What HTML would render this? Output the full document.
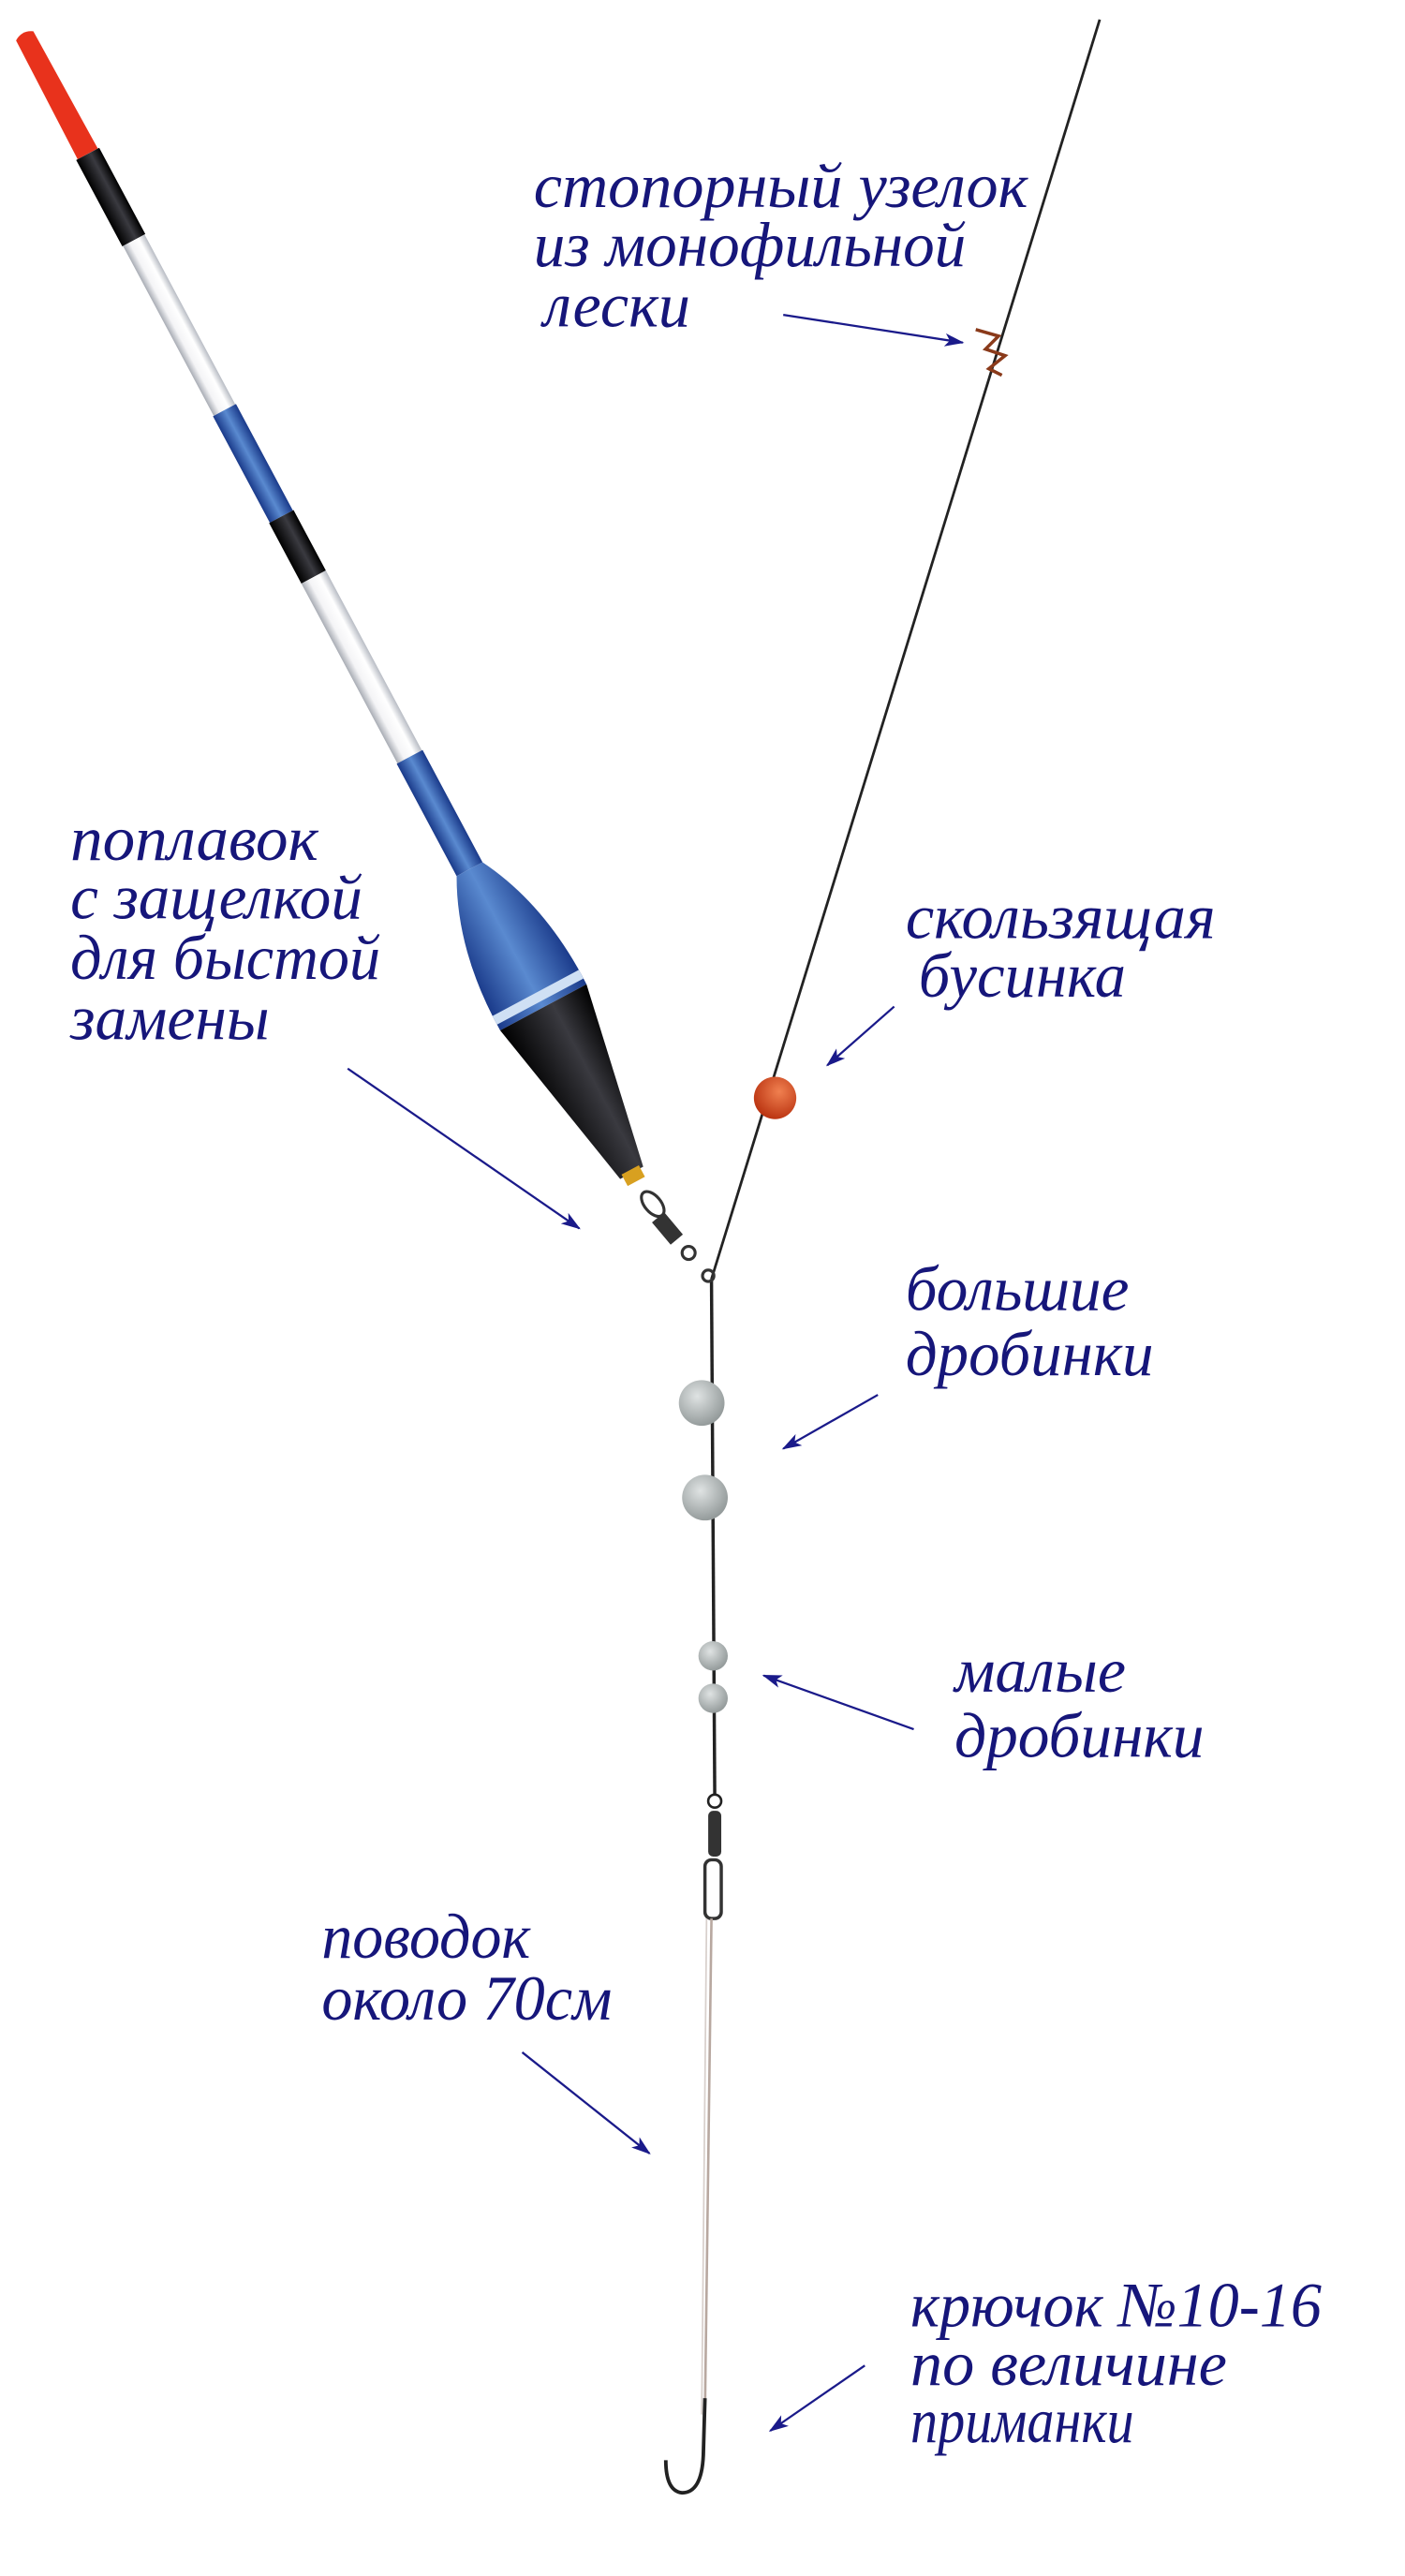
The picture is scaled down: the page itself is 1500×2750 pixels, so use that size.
<!DOCTYPE html>
<html><head><meta charset="utf-8"><style>
html,body{margin:0;padding:0;background:#fff;}
svg{display:block;}
text{font-family:"Liberation Serif","DejaVu Serif",serif;font-style:italic;fill:#16167a;font-size:39px;}
</style></head><body>
<svg width="1500" height="2750" viewBox="0 0 861 1579" xmlns="http://www.w3.org/2000/svg">
<defs>
<marker id="ah" markerWidth="12" markerHeight="10" refX="11" refY="5" orient="auto" markerUnits="userSpaceOnUse">
<path d="M0,1 L12,5 L0,9 L3,5 Z" fill="#1a1a8a"/>
</marker>
<radialGradient id="shot" cx="0.4" cy="0.35" r="0.7"><stop offset="0" stop-color="#dfe3e3"/><stop offset="1" stop-color="#8f9696"/></radialGradient>
<radialGradient id="bead" cx="0.6" cy="0.35" r="0.7"><stop offset="0" stop-color="#f08050"/><stop offset="1" stop-color="#b8300e"/></radialGradient>
<linearGradient id="blue" x1="0" y1="0" x2="0" y2="1"><stop offset="0" stop-color="#1a3a8a"/><stop offset="0.5" stop-color="#5a8ad0"/><stop offset="1" stop-color="#1a3a8a"/></linearGradient>
<linearGradient id="clear" x1="0" y1="0" x2="0" y2="1"><stop offset="0" stop-color="#b8bcc4"/><stop offset="0.3" stop-color="#ffffff"/><stop offset="0.7" stop-color="#f4f4f6"/><stop offset="1" stop-color="#a8acb4"/></linearGradient>
<linearGradient id="blk" x1="0" y1="0" x2="0" y2="1"><stop offset="0" stop-color="#000"/><stop offset="0.4" stop-color="#3a3a40"/><stop offset="1" stop-color="#000"/></linearGradient>
</defs>

<line x1="674" y1="12" x2="436" y2="784" stroke="#222" stroke-width="1.6"/>
<path d="M598,202 L612,206 L604,214 L616,218 L606,226 L614,230" stroke="#8a3a1a" stroke-width="2" fill="none"/>
<circle cx="475" cy="673" r="13" fill="url(#bead)"/>
<line x1="436" y1="784" x2="438" y2="1100" stroke="#222" stroke-width="2"/>
<circle cx="430" cy="860" r="14" fill="url(#shot)"/>
<circle cx="432" cy="918" r="14" fill="url(#shot)"/>
<circle cx="437" cy="1015" r="9" fill="url(#shot)"/>
<circle cx="437" cy="1041" r="9" fill="url(#shot)"/>
<circle cx="438" cy="1104" r="4" fill="none" stroke="#222" stroke-width="1.5"/>
<rect x="434" y="1110" width="8" height="28" rx="3" fill="#333"/>
<rect x="432" y="1140" width="10" height="36" rx="4" fill="none" stroke="#333" stroke-width="2"/>
<line x1="436" y1="1176" x2="432" y2="1480" stroke="#b8a8a0" stroke-width="1.5"/>
<line x1="433" y1="1176" x2="430" y2="1480" stroke="#d8d0cc" stroke-width="1"/>
<path d="M432,1470 L431,1505 Q430,1528 418,1528 Q408,1527 408,1508" fill="none" stroke="#222" stroke-width="2.2"/>

<g transform="translate(15,22) rotate(61.9)">
<path d="M0,-6 L82,-7 L82,7 L0,6 Q-4,0 0,-6Z" fill="#e8321c"/>
<rect x="82" y="-8" width="60" height="16" fill="url(#blk)"/>
<rect x="142" y="-7.5" width="118" height="15" fill="url(#clear)"/>
<rect x="260" y="-8" width="74" height="16" fill="url(#blue)"/>
<rect x="334" y="-8.5" width="42" height="17" fill="url(#blk)"/>
<rect x="376" y="-8.5" width="125" height="17" fill="url(#clear)"/>
<rect x="501" y="-9" width="78" height="18" fill="url(#blue)"/>
<path d="M579,-9 Q620,-31 675,-30 L675,30 Q620,31 579,9 Z" fill="url(#blue)"/>
<rect x="665" y="-30" width="6" height="60" fill="#cfe0f4"/>
<path d="M675,-30 L790,-8 L790,8 L675,30 Z" fill="url(#blk)"/>
<rect x="788" y="-6" width="8" height="12" fill="#d8a020"/>
</g>
<g stroke="#333" stroke-width="1.8" fill="none">
<ellipse cx="400" cy="738" rx="5" ry="9" transform="rotate(-40 400 738)"/>
<rect x="405" y="745" width="8" height="16" fill="#333" transform="rotate(-40 409 753)"/>
<circle cx="422" cy="768" r="4"/>
<circle cx="434" cy="782" r="3.5"/>
</g>

<text x="327" y="127" textLength="303" lengthAdjust="spacingAndGlyphs">стопорный узелок</text>
<text x="327" y="163" textLength="265" lengthAdjust="spacingAndGlyphs">из монофильной</text>
<text x="333" y="200" textLength="90" lengthAdjust="spacingAndGlyphs">лески</text>
<line x1="480" y1="193" x2="590" y2="210" stroke="#1a1a8a" stroke-width="1.3" marker-end="url(#ah)"/>

<text x="43" y="527" textLength="152" lengthAdjust="spacingAndGlyphs">поплавок</text>
<text x="43" y="563" textLength="179" lengthAdjust="spacingAndGlyphs">с защелкой</text>
<text x="43" y="600" textLength="190" lengthAdjust="spacingAndGlyphs">для быстой</text>
<text x="43" y="637" textLength="122" lengthAdjust="spacingAndGlyphs">замены</text>
<line x1="213" y1="655" x2="355" y2="753" stroke="#1a1a8a" stroke-width="1.3" marker-end="url(#ah)"/>

<text x="555" y="575" textLength="190" lengthAdjust="spacingAndGlyphs">скользящая</text>
<text x="563" y="611" textLength="127" lengthAdjust="spacingAndGlyphs">бусинка</text>
<line x1="548" y1="617" x2="507" y2="653" stroke="#1a1a8a" stroke-width="1.3" marker-end="url(#ah)"/>

<text x="555" y="803" textLength="137" lengthAdjust="spacingAndGlyphs">большие</text>
<text x="555" y="843" textLength="152" lengthAdjust="spacingAndGlyphs">дробинки</text>
<line x1="538" y1="855" x2="480" y2="888" stroke="#1a1a8a" stroke-width="1.3" marker-end="url(#ah)"/>

<text x="585" y="1037" textLength="105" lengthAdjust="spacingAndGlyphs">малые</text>
<text x="585" y="1077" textLength="153" lengthAdjust="spacingAndGlyphs">дробинки</text>
<line x1="560" y1="1060" x2="468" y2="1027" stroke="#1a1a8a" stroke-width="1.3" marker-end="url(#ah)"/>

<text x="197" y="1200" textLength="128" lengthAdjust="spacingAndGlyphs">поводок</text>
<text x="197" y="1238" textLength="178" lengthAdjust="spacingAndGlyphs">около 70см</text>
<line x1="320" y1="1258" x2="398" y2="1320" stroke="#1a1a8a" stroke-width="1.3" marker-end="url(#ah)"/>

<text x="558" y="1426" textLength="252" lengthAdjust="spacingAndGlyphs">крючок №10-16</text>
<text x="558" y="1462" textLength="194" lengthAdjust="spacingAndGlyphs">по величине</text>
<text x="558" y="1497" textLength="137" lengthAdjust="spacingAndGlyphs">приманки</text>
<line x1="530" y1="1450" x2="472" y2="1490" stroke="#1a1a8a" stroke-width="1.3" marker-end="url(#ah)"/>
</svg>
</body></html>
